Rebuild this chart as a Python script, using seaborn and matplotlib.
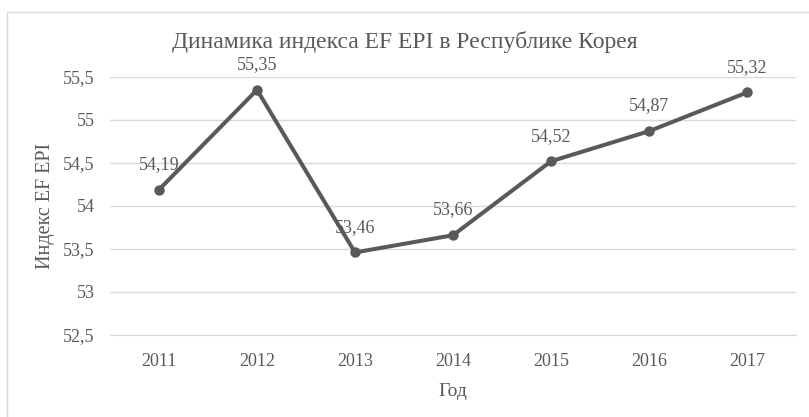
import matplotlib
matplotlib.use("Agg")
import matplotlib.pyplot as plt
import seaborn as sns
import pandas as pd
from matplotlib.patches import Rectangle
from matplotlib.ticker import FuncFormatter

# data
years = ["2011", "2012", "2013", "2014", "2015", "2016", "2017"]
epi = [54.19, 55.35, 53.46, 53.66, 54.52, 54.87, 55.32]
y_ticks = [52.5, 53, 53.5, 54, 54.5, 55, 55.5]

sns.set_style("white")
plt.rcParams["font.family"] = "serif"
plt.rcParams["font.serif"] = ["Liberation Serif", "DejaVu Serif"]

FONT = "Liberation Serif"
text_c = "#595959"
grid_c = "#d9d9d9"
line_c = "#595959"

df = pd.DataFrame({"year": years, "epi": epi})

fig = plt.figure(figsize=(8.09, 4.17), dpi=100)
ax = fig.add_axes([110 / 809, 1 - 335 / 417, (796 - 110) / 809, (335 - 77) / 417])

sns.lineplot(data=df, x="year", y="epi", ax=ax, color=line_c, linewidth=2.9,
             marker="o", markersize=7.5, markeredgewidth=0, sort=False)

ax.set_xlim(-0.5, len(years) - 0.5)
ax.set_ylim(52.5, 55.5)
ax.set_yticks(y_ticks)
ax.yaxis.set_major_formatter(FuncFormatter(lambda v, p: f"{v:g}".replace(".", ",")))
ax.grid(axis="y", color=grid_c, linewidth=1)
ax.set_axisbelow(True)
for s in ["top", "right", "left"]:
    ax.spines[s].set_visible(False)
ax.spines["bottom"].set_color(grid_c)
ax.tick_params(axis="both", length=0, labelsize=13, colors=text_c)
ax.tick_params(axis="y", pad=11)
ax.tick_params(axis="x", pad=13)
for lbl in ax.get_xticklabels() + ax.get_yticklabels():
    lbl.set_fontfamily(FONT)

# data labels
for i, v in enumerate(epi):
    ax.annotate(f"{v:.2f}".replace(".", ","), (i, v), xytext=(0, 12),
                textcoords="offset points", ha="center", va="bottom",
                fontsize=13, color=text_c, fontfamily=FONT)

ax.set_xlabel("Год", fontsize=14, color=text_c, labelpad=9, fontfamily=FONT)
ax.set_ylabel("Индекс EF EPI", fontsize=14.5, color=text_c, labelpad=6, fontfamily=FONT)
fig.text(0.5, 1 - 42 / 417, "Динамика индекса EF EPI в Республике Корея",
         ha="center", va="center", fontsize=17, color=text_c, fontfamily=FONT)

# outer chart border
fig.patches.append(Rectangle((7 / 809, -0.05), 1.2, 1 - 12 / 417 + 0.05,
                             transform=fig.transFigure, fill=False,
                             edgecolor=grid_c, linewidth=1))

fig.savefig("out.png", dpi=100)
